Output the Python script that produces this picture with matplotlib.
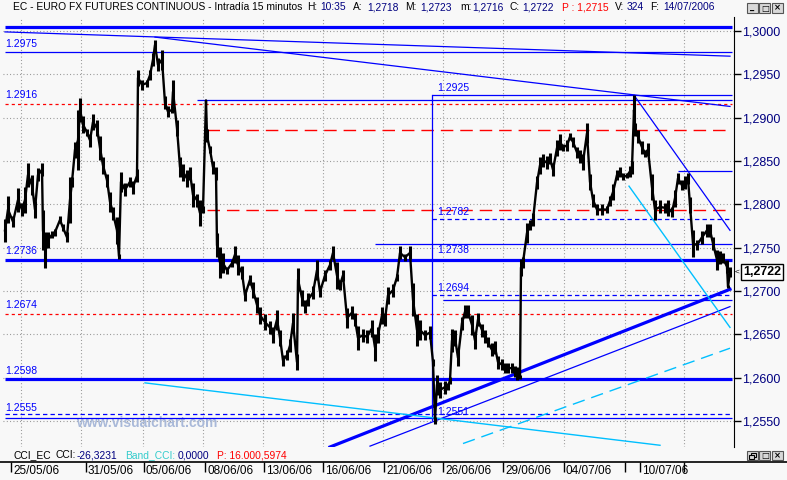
import matplotlib
matplotlib.use("Agg")
import matplotlib.pyplot as plt
import matplotlib.transforms as mtransforms
import numpy as np
from matplotlib.patches import Rectangle
from matplotlib.lines import Line2D

plt.rcParams["font.family"] = ["Liberation Sans", "DejaVu Sans"]

# ---- datos: barras de 15 minutos (indice de barra) y cierre ----
bar = [0, 3, 8, 13, 17, 20, 23, 27, 30, 33, 37, 38, 40, 43, 47, 50, 55, 58, 62, 65,
       67, 70, 73, 75, 78, 82, 85, 88, 92, 95, 98, 102, 105, 108, 112, 114, 116, 120, 125, 128,
       132, 133, 137, 142, 145, 148, 150, 153, 157, 160, 163, 167, 168, 172, 175, 178, 182, 185, 188, 192,
       195, 198, 201, 202, 205, 208, 211, 212, 215, 218, 222, 227, 230, 233, 237, 240, 245, 248, 252, 255,
       260, 265, 268, 272, 275, 278, 282, 285, 288, 292, 293, 297, 300, 303, 308, 312, 315, 320, 325, 328,
       332, 335, 338, 342, 347, 350, 353, 358, 362, 367, 370, 373, 377, 380, 383, 388, 392, 395, 400, 405,
       408, 412, 415, 420, 425, 428, 430, 432, 435, 440, 443, 445, 447, 450, 453, 457, 460, 463, 467, 470,
       473, 477, 480, 483, 487, 490, 493, 497, 500, 503, 507, 510, 512, 515, 516, 518, 522, 525, 528, 532,
       535, 538, 542, 545, 548, 552, 555, 558, 562, 565, 568, 572, 575, 578, 582, 585, 588, 592, 597, 602,
       605, 608, 612, 615, 618, 622, 625, 627, 629, 630, 633, 637, 640, 643, 647, 650, 655, 660, 663, 667,
       670, 673, 677, 680, 683, 685, 688, 692, 697, 702, 705, 708, 712, 715, 718, 722, 723, 725]
close = [1.2770, 1.2794, 1.2780, 1.2805, 1.2794, 1.2805, 1.2834, 1.2822, 1.2794, 1.2834,
         1.2840, 1.2770, 1.2747, 1.2759, 1.2765, 1.2768, 1.2782, 1.2773, 1.2762, 1.2805,
         1.2826, 1.2863, 1.2874, 1.2909, 1.2892, 1.2883, 1.2874, 1.2895, 1.2888, 1.2865,
         1.2845, 1.2828, 1.2803, 1.2790, 1.2770, 1.2740, 1.2826, 1.2817, 1.2826, 1.2820,
         1.2833, 1.2946, 1.2938, 1.2940, 1.2949, 1.2967, 1.2984, 1.2961, 1.2967, 1.2917,
         1.2907, 1.2909, 1.2930, 1.2888, 1.2843, 1.2837, 1.2830, 1.2836, 1.2811, 1.2805,
         1.2790, 1.2794, 1.2920, 1.2879, 1.2863, 1.2843, 1.2836, 1.2753, 1.2733, 1.2732,
         1.2724, 1.2732, 1.2742, 1.2730, 1.2721, 1.2695, 1.2713, 1.2701, 1.2684, 1.2672,
         1.2664, 1.2658, 1.2649, 1.2667, 1.2646, 1.2620, 1.2626, 1.2637, 1.2663, 1.2618,
         1.2713, 1.2692, 1.2682, 1.2690, 1.2698, 1.2724, 1.2699, 1.2718, 1.2730, 1.2744,
         1.2718, 1.2707, 1.2718, 1.2669, 1.2675, 1.2667, 1.2646, 1.2649, 1.2647, 1.2657,
         1.2635, 1.2649, 1.2672, 1.2667, 1.2695, 1.2701, 1.2716, 1.2744, 1.2739, 1.2744,
         1.2690, 1.2655, 1.2655, 1.2649, 1.2652, 1.2618, 1.2551, 1.2592, 1.2586, 1.2589,
         1.2590, 1.2597, 1.2643, 1.2646, 1.2623, 1.2663, 1.2676, 1.2676, 1.2661, 1.2643,
         1.2667, 1.2655, 1.2647, 1.2641, 1.2632, 1.2635, 1.2618, 1.2615, 1.2611, 1.2611,
         1.2611, 1.2607, 1.2605, 1.2601, 1.2727, 1.2733, 1.2767, 1.2776, 1.2782, 1.2825,
         1.2845, 1.2851, 1.2848, 1.2853, 1.2840, 1.2865, 1.2872, 1.2866, 1.2868, 1.2878,
         1.2872, 1.2860, 1.2855, 1.2849, 1.2882, 1.2826, 1.2805, 1.2794, 1.2794, 1.2794,
         1.2804, 1.2814, 1.2834, 1.2837, 1.2832, 1.2833, 1.2838, 1.2843, 1.2909, 1.2886,
         1.2878, 1.2866, 1.2859, 1.2863, 1.2820, 1.2794, 1.2797, 1.2796, 1.2796, 1.2791,
         1.2807, 1.2830, 1.2822, 1.2825, 1.2830, 1.2799, 1.2755, 1.2753, 1.2762, 1.2770,
         1.2770, 1.2755, 1.2736, 1.2739, 1.2738, 1.2728, 1.2705, 1.2722]
# rango aproximado de las barras alrededor del cierre (pips)
band = [27, 31, 12, 27, 15, 31, 27, 23, 19, 15, 15, 46, 42, 19, 8, 8, 8, 8, 12, 54,
        12, 19, 69, 27, 19, 8, 15, 19, 19, 27, 19, 15, 23, 15, 31, 6, 23, 15, 12, 15,
        15, 19, 12, 8, 12, 15, 12, 15, 23, 15, 12, 8, 27, 19, 23, 19, 19, 15, 27, 15,
        31, 8, 0, 15, 8, 15, 15, 27, 35, 23, 8, 8, 19, 23, 15, 12, 12, 19, 19, 19,
        19, 15, 19, 23, 19, 12, 12, 15, 23, 19, 27, 19, 15, 15, 15, 23, 12, 12, 12, 15,
        31, 12, 12, 23, 15, 15, 27, 15, 15, 19, 31, 19, 19, 15, 19, 15, 8, 15, 8, 15,
        38, 38, 23, 12, 15, 8, 8, 23, 19, 15, 8, 8, 27, 19, 19, 15, 15, 15, 23, 19,
        15, 15, 15, 12, 15, 15, 15, 12, 12, 12, 12, 12, 15, 4, 19, 12, 23, 12, 15, 15,
        19, 15, 15, 12, 15, 19, 19, 8, 12, 8, 12, 12, 15, 19, 23, 19, 15, 12, 12, 8,
        12, 19, 12, 12, 8, 6, 12, 15, 35, 15, 15, 15, 8, 15, 31, 23, 15, 12, 19, 12,
        19, 12, 12, 15, 12, 19, 31, 12, 15, 15, 15, 15, 23, 15, 12, 15, 4, 12]

last_close = 1.2722

# eje de fechas
date_bars = [6, 81, 139, 200, 259, 318, 379, 438, 498, 559, 620, 635, 679]
date_labels = ["25/05/06", "31/05/06", "05/06/06", "08/06/06", "13/06/06", "16/06/06",
               "21/06/06", "26/06/06", "29/06/06", "04/07/06", "", "10/07/06", ""]
grid_bars = [16, 76, 138, 198, 258, 318, 378, 438, 498, 559, 620, 679]
price_ticks = [1.2550, 1.2600, 1.2650, 1.2700, 1.2750, 1.2800, 1.2850, 1.2900, 1.2950, 1.3000]

# niveles dibujados (precio, barra inicial)
thick_levels = [1.3005, 1.2736, 1.2598]
thin_levels = [(1.2976, 0), (1.2920, 192), (1.2926, 427), (1.2754, 370),
               (1.2690, 438), (1.2554, 0), (1.2838, 673)]
blue_dash_levels = [(1.2783, 427), (1.2695, 427), (1.2558, 0)]
red_dot_levels = [1.2916, 1.2674]
red_dash_levels = [(1.2886, 202), (1.2794, 202)]

# lineas de tendencia (barra0, precio0, barra1, precio1)
blue_trends = [(0, 1.2999, 725, 1.2971), (150, 1.2993, 725, 1.2913),
               (629, 1.2926, 725, 1.2770), (365, 1.2521, 725, 1.2682),
               (427, 1.2926, 427, 1.2551)]
thick_trend = (325, 1.2520, 725, 1.2702)
cyan_trends = [(140, 1.2594, 655, 1.2522), (624, 1.2821, 725, 1.2658)]
cyan_dash_trend = (458, 1.2524, 725, 1.2634)

left_labels = ["1.2975", "1.2916", "1.2736", "1.2674", "1.2598", "1.2555"]
right_labels = ["1.2925", "1.2782", "1.2738", "1.2694", "1.2551"]
label_bars = [0, 432]

BG = "#f8f8f8"
BLUE = "#0000ff"
RED = "#ff0000"
CYAN = "#00bfff"
NAVY = "#000080"

W, H = 787, 480
fig = plt.figure(figsize=(W / 100, H / 100), dpi=100, facecolor=BG)


def fx(x):
    return x / W


def fy(y):
    return 1 - y / H


ax = fig.add_axes([fx(3), fy(447), (734 - 3) / W, (447 - 17) / H])
ax.set_facecolor(BG)
ax.set_xlim(-2, 729)
ax.set_ylim(1.2520, 1.30162)
for s in ["top", "left", "bottom"]:
    ax.spines[s].set_visible(False)
ax.spines["right"].set_color("black")

# rejilla punteada
grid_style = dict(color="#8a8a8a", lw=0.8, ls=(0, (0.8, 2.2)), zorder=0)
for p in price_ticks:
    ax.axhline(p, **grid_style)
for b in grid_bars:
    ax.axvline(b, **grid_style)

ax.yaxis.tick_right()
ax.set_yticks(price_ticks)
ax.set_yticklabels([f"{p:.4f}".replace(".", ",") for p in price_ticks])
ax.tick_params(axis="y", length=5, width=1, color="black", labelcolor=NAVY,
               labelsize=9, pad=1)
ax.set_xticks([])

end_bar = 727
for p in thick_levels:
    ax.hlines(p, 0, end_bar, color=BLUE, lw=2.3, zorder=3)
for p, b in thin_levels:
    ax.hlines(p, b, end_bar, color=BLUE, lw=0.9, zorder=3)
for p, b in blue_dash_levels:
    ax.hlines(p, b, end_bar, color=BLUE, lw=0.9, linestyles=[(0, (3.5, 2.5))], zorder=3)
for p in red_dot_levels:
    ax.hlines(p, 0, end_bar, color=RED, lw=0.9, linestyles=[(0, (2.5, 2.5))], zorder=3)
for p, b in red_dash_levels:
    ax.hlines(p, b, end_bar, color=RED, lw=1.0, linestyles=[(0, (9, 5))], zorder=3)

for b0, p0, b1, p1 in blue_trends:
    ax.plot([b0, b1], [p0, p1], color=BLUE, lw=0.9, zorder=3)
b0, p0, b1, p1 = thick_trend
ax.plot([b0, b1], [p0, p1], color=BLUE, lw=2.3, zorder=3)
for b0, p0, b1, p1 in cyan_trends:
    ax.plot([b0, b1], [p0, p1], color=CYAN, lw=1.0, zorder=3)
b0, p0, b1, p1 = cyan_dash_trend
ax.plot([b0, b1], [p0, p1], color=CYAN, lw=1.0, ls=(0, (9, 5)), zorder=3)

# precio
bar_a = np.array(bar)
close_a = np.array(close)
half = np.array(band) / 2 * 1e-4
ax.vlines(bar_a, close_a - half, close_a + half, color="black", lw=2.2, zorder=4)
ax.plot(bar_a, close_a, color="black", lw=1.7, zorder=4)

# etiquetas de niveles
for txt in left_labels:
    ax.annotate(txt, (label_bars[0], float(txt)), xytext=(0, 6), textcoords="offset points",
                color=BLUE, fontsize=7.5, ha="left", va="center", zorder=5)
for txt in right_labels:
    ax.annotate(txt, (label_bars[1], float(txt)), xytext=(0, 6), textcoords="offset points",
                color=BLUE, fontsize=7.5, ha="left", va="center", zorder=5)

# marca watermark
ax.text(71, 1.2548, "www.visualchart.com", color="#a9b9d9", fontsize=10,
        fontweight="bold", ha="left", va="center", zorder=2)

# etiqueta del ultimo precio
ax.annotate(f"{last_close:.4f}".replace(".", ","), (1.0, last_close),
            xycoords=ax.get_yaxis_transform(), xytext=(20, 0), textcoords="offset points",
            ha="center", va="center", fontsize=9, fontweight="bold", color="black",
            bbox=dict(boxstyle="square,pad=0.15", fc="white", ec="black", lw=1),
            annotation_clip=False)
ax.annotate("<", (1.0, last_close), xycoords=ax.get_yaxis_transform(), xytext=(2.5, 0),
            textcoords="offset points", ha="center", va="center", fontsize=6,
            color="black", annotation_clip=False)

# panel inferior con fechas
ax2 = fig.add_axes([fx(3), fy(462), (734 - 3) / W, (462 - 447) / H])
ax2.patch.set_alpha(0)
ax2.set_xlim(-2, 729)
for s in ["top", "left", "right", "bottom"]:
    ax2.spines[s].set_visible(False)
ax2.set_yticks([])
ax2.set_xticks(date_bars)
ax2.set_xticklabels(date_labels)
ax2.tick_params(axis="x", length=7, width=1, color="black", labelsize=8.5,
                labelcolor="black", pad=-5)
shift = mtransforms.ScaledTranslation(2 / 100, 0, fig.dpi_scale_trans)
for t in ax2.get_xticklabels():
    t.set_horizontalalignment("left")
    t.set_transform(t.get_transform() + shift)
fig.add_artist(Line2D([0, 1], [fy(462), fy(462)], color="black", lw=1.2,
                      transform=fig.transFigure))

# cabecera
title_parts = [("EC - EURO FX FUTURES CONTINUOUS - Intradía 15 minutos", "black", 13),
               ("H:", "black", 307), ("10:35", NAVY, 320), ("A:", "black", 353),
               ("1,2718", NAVY, 367), ("M:", "black", 405), ("1,2723", NAVY, 420),
               ("m:", "black", 460), ("1,2716", NAVY, 472), ("C:", "black", 510),
               ("1,2722", NAVY, 522), ("P : 1,2715", RED, 562), ("V:", "black", 615),
               ("324", NAVY, 627), ("F:", "black", 650), ("14/07/2006", NAVY, 663)]
for txt, col, x in title_parts:
    fig.text(fx(x), fy(7.5), txt, color=col, fontsize=7.4, ha="left", va="center")

cci_parts = [("CCI_EC", "black", 13), ("CCI:", "black", 55), ("-26,3231", NAVY, 77),
             ("Band_CCI:", "#33cccc", 125), ("0,0000", NAVY, 178),
             ("P: 16.000,5974", RED, 217)]
for txt, col, x in cci_parts:
    fig.text(fx(x), fy(455), txt, color=col, fontsize=7.4, ha="left", va="center")


# botones de ventana
def button_box(x0, y0):
    fig.add_artist(Rectangle((fx(x0), fy(y0 + 9)), 11 / W, 9 / H, transform=fig.transFigure,
                             fc="#d8d8d8", ec="#555555", lw=0.8))


def glyph(x0, y0, g):
    fig.text(fx(x0 + 5.5), fy(y0 + 4.5), g, fontsize=6, ha="center", va="center",
             color="black", family="DejaVu Sans", fontweight="bold")


for i, g in enumerate(["_", "□", "×"]):
    button_box(747 + i * 12.3, 3.5)
    glyph(747 + i * 12.3, 3.5, g)
for i, g in enumerate(["", "□", "×"]):
    button_box(747 + i * 12.3, 451)
    if g:
        glyph(747 + i * 12.3, 451, g)
# simbolo de restaurar dibujado (sin glifo disponible)
for dx, dy in [(3.5, 1.8), (1.8, 3.6)]:
    fig.add_artist(Rectangle((fx(747 + dx), fy(451 + dy + 4)), 5 / W, 4 / H,
                             transform=fig.transFigure, fc="#d8d8d8", ec="black", lw=0.8))

fig.savefig("out.png", dpi=100, facecolor=BG)
